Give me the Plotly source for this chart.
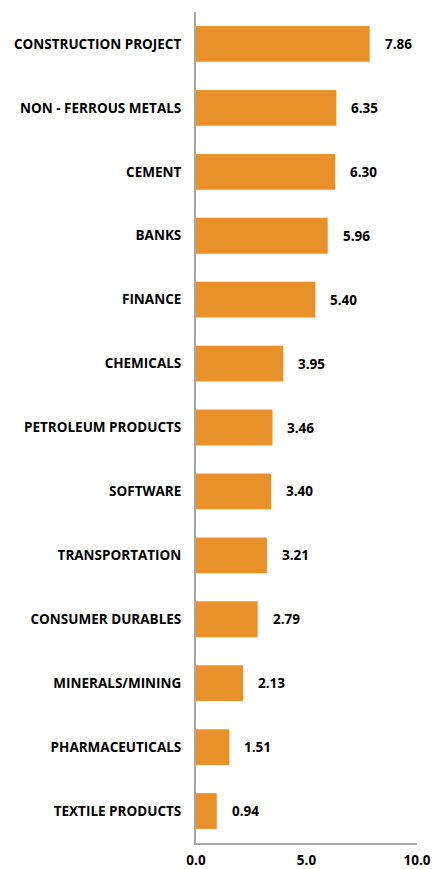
import plotly.graph_objects as go

# Sectors, listed top to bottom
sectors = [
    "CONSTRUCTION PROJECT",
    "NON - FERROUS METALS",
    "CEMENT",
    "BANKS",
    "FINANCE",
    "CHEMICALS",
    "PETROLEUM PRODUCTS",
    "SOFTWARE",
    "TRANSPORTATION",
    "CONSUMER DURABLES",
    "MINERALS/MINING",
    "PHARMACEUTICALS",
    "TEXTILE PRODUCTS",
]
values = [7.86, 6.35, 6.30, 5.96, 5.40, 3.95, 3.46, 3.40, 3.21, 2.79, 2.13, 1.51, 0.94]
x_ticks = [0, 5, 10]
x_tick_text = ["0.0", "5.0", "10.0"]

BAR_COLOR = "#E8912A"
AXIS_COLOR = "#A6A6A6"
FONT = "Open Sans"

fig = go.Figure(
    go.Bar(
        x=values,
        y=sectors,
        orientation="h",
        marker=dict(color=BAR_COLOR, line=dict(width=0)),
        hoverinfo="x+y",
    )
)

# Value labels to the right of each bar
for s, v in zip(sectors, values):
    fig.add_annotation(
        x=v, y=s, xref="x", yref="y",
        text=f"<b>{v:.2f}</b>",
        showarrow=False,
        xanchor="left", yanchor="middle",
        xshift=13,
        font=dict(family=FONT, size=13.5, color="#000000"),
    )

fig.update_layout(
    width=433, height=869,
    margin=dict(l=196, r=16, t=12, b=26, autoexpand=False),
    plot_bgcolor="white", paper_bgcolor="white",
    bargap=0.44,
    showlegend=False,
    font=dict(family=FONT, size=13, color="#000000"),
)
fig.update_xaxes(
    range=[0, 10],
    tickvals=x_ticks, ticktext=[f"<b>{t}</b>" for t in x_tick_text],
    showgrid=False, zeroline=False,
    showline=True, linecolor=AXIS_COLOR, linewidth=2,
    ticks="", ticklabelstandoff=4,
    automargin=False,
    tickfont=dict(family=FONT, size=13.5, color="#000000"),
)
fig.update_yaxes(
    autorange="reversed",
    tickvals=sectors, ticktext=[f"<b>{s}</b>" for s in sectors],
    showgrid=False, zeroline=False,
    showline=True, linecolor=AXIS_COLOR, linewidth=2,
    ticks="", ticklabelstandoff=10,
    automargin=False,
    tickfont=dict(family=FONT, size=13.5, color="#000000"),
)

fig.write_html("out.html")
